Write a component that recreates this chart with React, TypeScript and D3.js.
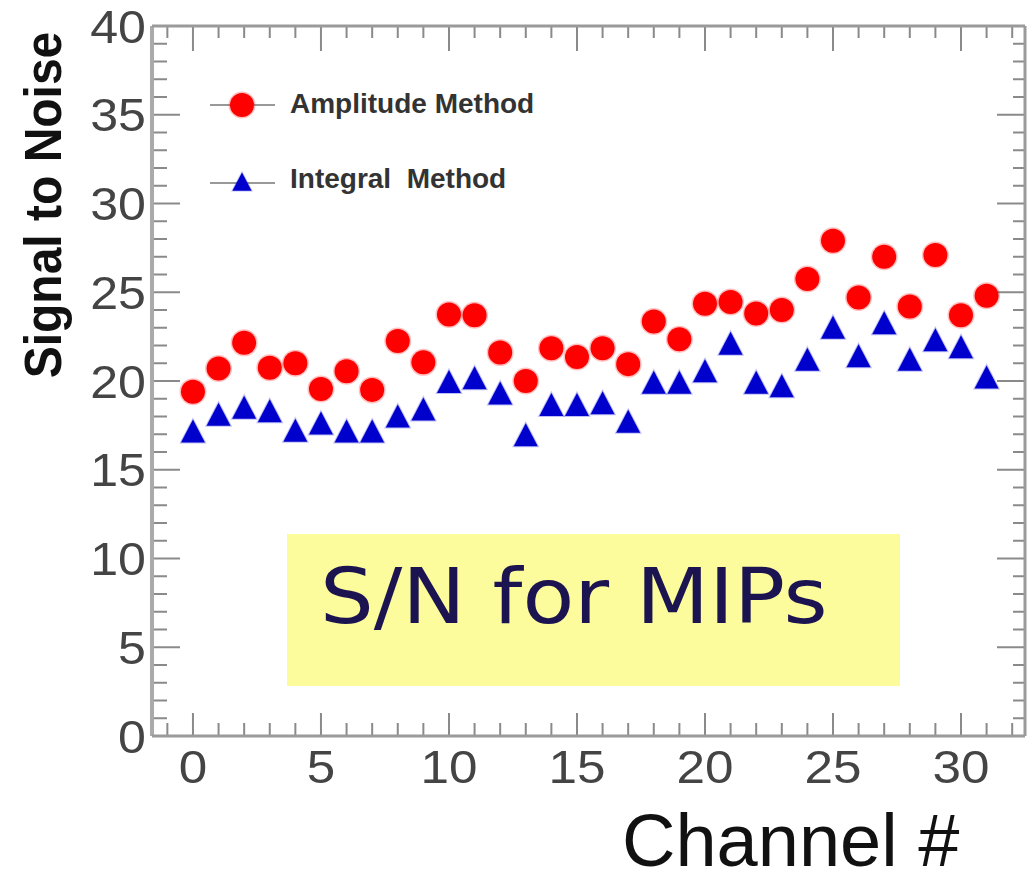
import React from "react";
import * as d3 from "d3";

const channels = [0,1,2,3,4,5,6,7,8,9,10,11,12,13,14,15,16,17,18,19,20,21,22,23,24,25,26,27,28,29,30,31];
const amplitude = [19.4,20.7,22.15,20.75,21.0,19.55,20.55,19.5,22.25,21.05,23.75,23.7,21.6,20.0,21.85,21.35,21.85,20.95,23.35,22.35,24.35,24.45,23.8,24.0,25.75,27.9,24.7,27.0,24.2,27.1,23.7,24.8];
const integral = [17.15,18.1,18.5,18.3,17.2,17.6,17.15,17.15,18.0,18.4,19.95,20.15,19.3,16.95,18.65,18.65,18.75,17.7,19.9,19.9,20.55,22.1,19.9,19.7,21.2,23.0,21.4,23.25,21.2,22.3,21.9,20.2];
const xMajorTicks = [0,5,10,15,20,25,30];
const yMajorTicks = [0,5,10,15,20,25,30,35,40];
const legendLabels = ["Amplitude Method", "Integral\u00a0\u00a0Method"];
const yTitle = "Signal to Noise";
const xTitle = "Channel #";
const boxText = "S/N for MIPs";

const W = 1032, H = 872;
const L = 152, R = 1025, T = 26, B = 736;

export default function App() {
  const x = d3.scaleLinear().domain([-1.6, 32.5]).range([L, R]);
  const y = d3.scaleLinear().domain([0, 40]).range([B, T]);
  const xMinor = d3.range(-1, 33).filter((v) => !xMajorTicks.includes(v));
  const yMinor = d3.range(0, 41).filter((v) => !yMajorTicks.includes(v));
  const axisCol = "#9a9a9a";
  const tickCol = "#8a8a8a";
  const labelCol = "#444";
  const tri = "M0,-12L12,11L-12,11Z";

  return (
    <svg width={W} height={H} style={{ position: "absolute", left: 0, top: 0, background: "#fff" }}>
      <rect x={0} y={0} width={W} height={H} fill="#fff" />
      {/* yellow annotation box */}
      <rect x={287} y={534} width={613} height={152} fill="#fcfc9c" />
      <text
        transform="translate(320,623) scale(1.1,1)"
        fontFamily="DejaVu Sans"
        fontSize={77}
        fill="#1b1450"
      >
        {boxText}
      </text>

      {/* ticks */}
      <g stroke={tickCol} strokeWidth={2}>
        {xMajorTicks.map((v) => (
          <g key={"xm" + v}>
            <line x1={x(v)} x2={x(v)} y1={B} y2={B - 23} />
            <line x1={x(v)} x2={x(v)} y1={T} y2={T + 25} />
          </g>
        ))}
        {xMinor.map((v) => (
          <g key={"xn" + v}>
            <line x1={x(v)} x2={x(v)} y1={B} y2={B - 13} />
            <line x1={x(v)} x2={x(v)} y1={T} y2={T + 12} />
          </g>
        ))}
        {yMajorTicks.map((v) => (
          <g key={"ym" + v}>
            <line x1={L} x2={L + 28} y1={y(v)} y2={y(v)} />
            <line x1={R} x2={R - 28} y1={y(v)} y2={y(v)} />
          </g>
        ))}
        {yMinor.map((v) => (
          <g key={"yn" + v}>
            <line x1={L} x2={L + 15} y1={y(v)} y2={y(v)} />
            <line x1={R} x2={R - 12} y1={y(v)} y2={y(v)} />
          </g>
        ))}
      </g>

      {/* frame */}
      <line x1={L} x2={L} y1={T} y2={B} stroke="#aaa" strokeWidth={4} />
      <line x1={L} x2={R} y1={B} y2={B} stroke={axisCol} strokeWidth={3} />
      <line x1={L} x2={R} y1={T} y2={T} stroke={axisCol} strokeWidth={3} />
      <line x1={R} x2={R} y1={T} y2={B} stroke={axisCol} strokeWidth={3} />

      {/* tick labels */}
      {yMajorTicks.map((v) => (
        <text
          key={"yl" + v}
          transform={`translate(146,${y(v)}) scale(1.09,1)`}
          textAnchor="end"
          dy="0.36em"
          fontFamily="Liberation Sans, Arial, sans-serif"
          fontSize={46}
          fill={labelCol}
        >
          {v}
        </text>
      ))}
      {xMajorTicks.map((v) => (
        <text
          key={"xl" + v}
          transform={`translate(${x(v)},783) scale(1.09,1)`}
          textAnchor="middle"
          fontFamily="Liberation Sans, Arial, sans-serif"
          fontSize={47}
          fill={labelCol}
        >
          {v}
        </text>
      ))}

      {/* axis titles */}
      <text
        transform="translate(61,205) scale(1.09,1) rotate(-90)"
        textAnchor="middle"
        fontFamily="Liberation Sans, Arial, sans-serif"
        fontWeight="bold"
        fontSize={48}
        fill="#111"
      >
        {yTitle}
      </text>
      <text
        x={622}
        y={866}
        fontFamily="Liberation Sans, Arial, sans-serif"
        fontSize={74}
        fill="#111"
      >
        {xTitle}
      </text>

      {/* legend */}
      <line x1={210} x2={275} y1={105} y2={105} stroke="#999" strokeWidth={2} />
      <circle cx={242} cy={105} r={12} fill="#ff0000" stroke="rgba(255,0,0,0.25)" strokeWidth={3} />
      <line x1={210} x2={275} y1={183} y2={183} stroke="#999" strokeWidth={2} />
      <path d={tri} transform="translate(242,182) scale(0.8)" fill="#0000cc" stroke="rgba(0,0,220,0.25)" strokeWidth={2} />
      <text x={290} y={113} fontFamily="Liberation Sans, Arial, sans-serif" fontWeight="bold" fontSize={28} fill="#333">
        {legendLabels[0]}
      </text>
      <text x={290} y={188} fontFamily="Liberation Sans, Arial, sans-serif" fontWeight="bold" fontSize={28} fill="#333">
        {legendLabels[1]}
      </text>

      {/* data */}
      {channels.map((c, i) => (
        <path
          key={"t" + c}
          d={tri}
          transform={`translate(${x(c)},${y(integral[i])})`}
          fill="#0000cc"
          stroke="rgba(0,0,220,0.25)"
          strokeWidth={2}
        />
      ))}
      {channels.map((c, i) => (
        <circle
          key={"c" + c}
          cx={x(c)}
          cy={y(amplitude[i])}
          r={12}
          fill="#ff0000"
          stroke="rgba(255,0,0,0.25)"
          strokeWidth={3}
        />
      ))}
    </svg>
  );
}
